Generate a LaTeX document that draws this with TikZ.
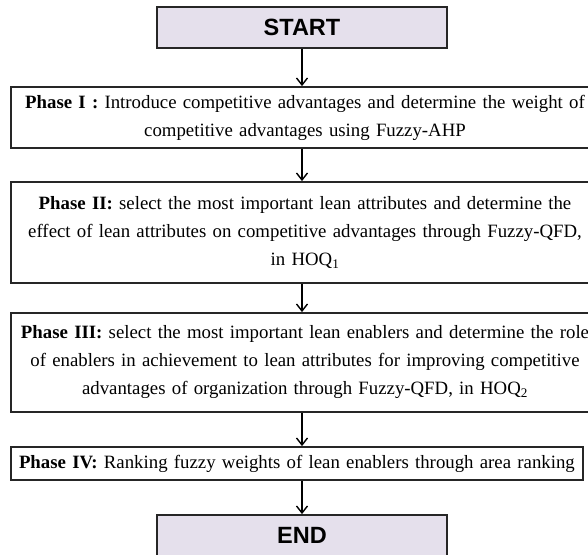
\documentclass[tikz,border=0pt]{standalone}
\usepackage{fontspec}
\setmainfont{Liberation Serif}
\newfontfamily\headfont{Liberation Sans}
\usetikzlibrary{arrows.meta}

\definecolor{lavender}{HTML}{E5E0EC}

\begin{document}
\begin{tikzpicture}[x=1pt,y=-1pt,>={Straight Barb[length=7pt,width=11pt]},
    phase/.style={draw=black!85,line width=1.8pt,minimum width=588pt,text width=576pt,
                  align=center,font=\fontsize{18.8}{28}\selectfont},
    terminal/.style={draw=black!85,line width=1.8pt,fill=lavender,minimum width=290pt,
                  minimum height=41pt,font=\headfont\bfseries\fontsize{23.5}{26}\selectfont}]
    \useasboundingbox (0,0) rectangle (588,554);
    \clip (0,0) rectangle (588,554);

    \node[terminal]                        (start) at (302,27.5)  {START};
    \node[phase,minimum height=61pt]       (p1)    at (305,117.5)
        {\textbf{Phase I :} Introduce competitive advantages and determine the weight of\\
         competitive advantages using Fuzzy-AHP};
    \node[phase,minimum height=101pt]      (p2)    at (305,232.5)
        {\textbf{Phase II:} select the most important lean attributes and determine the\\
         effect of lean attributes on competitive advantages through Fuzzy-QFD,\\
         in HOQ\textsubscript{1}};
    \node[phase,minimum height=99pt]       (p3)    at (305,362.5)
        {\textbf{Phase III:} select the most important lean enablers and determine the role\\
         of enablers in achievement to lean attributes for improving competitive\\
         advantages of organization through Fuzzy-QFD, in HOQ\textsubscript{2}};
    \node[phase,minimum width=572pt,text width=556pt,align=left,minimum height=33pt]
                                           (p4)    at (297,463.5)
        {\textbf{Phase IV:} Ranking fuzzy weights of lean enablers through area ranking};
    \node[terminal]                        (end)   at (302,535.5) {END};

    \path[->,line width=1.4pt]
        (start.south) edge (start.south |- p1.north)
        (start.south |- p1.south) edge (start.south |- p2.north)
        (start.south |- p2.south) edge (start.south |- p3.north)
        (start.south |- p3.south) edge (start.south |- p4.north)
        (end.north |- p4.south) edge (end.north);
\end{tikzpicture}
\end{document}
